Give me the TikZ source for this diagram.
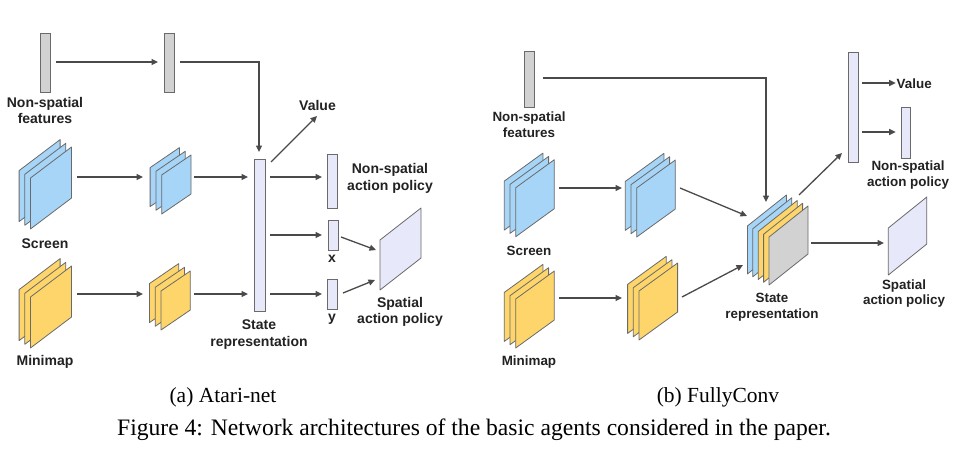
\documentclass[tikz,border=0pt]{standalone}
\usepackage{fontspec}
\setmainfont{Liberation Serif}
\newfontfamily\labfont{Liberation Sans}
\usetikzlibrary{arrows.meta}
\definecolor{blueF}{HTML}{A6D5F7}
\definecolor{yelF}{HTML}{FDD56A}
\definecolor{grayF}{HTML}{D2D2D2}
\definecolor{lavF}{HTML}{E8E8FB}
\definecolor{edgeC}{HTML}{6A6A6A}
\definecolor{arrC}{HTML}{4A4A4A}
\definecolor{txtC}{HTML}{222222}
\newcommand{\mysheet}[6]{\filldraw[sheet,fill=#6] (#1,#2) -- ++(0,-#4) -- ++(#3,-#5) -- ++(0,#4) -- cycle;}
\newcommand{\mystack}[8]{\foreach \c [count=\i from 0] in {#8} {\mysheet{#1+\i*#6}{#2+\i*#7}{#3}{#4}{#5}{\c}}}
\begin{document}
\begin{tikzpicture}[x=1pt,y=-1pt,
  sheet/.style={draw=edgeC,line width=0.8pt,line join=round},
  bar/.style={draw=edgeC,line width=0.8pt,inner sep=0pt,minimum width=10pt},
  arr/.style={draw=arrC,line width=1.3pt,-{Triangle[length=6.5pt,width=6pt]}},
  lab/.style={font={\labfont\bfseries\fontsize{14}{16.5}\selectfont},align=center,text=txtC,inner sep=0pt},
  labB/.style={font={\labfont\bfseries\fontsize{13.4}{15.5}\selectfont},align=center,text=txtC,inner sep=0pt},
  captxt/.style={font={\fontsize{21.5}{24}\selectfont},inner sep=0pt,text=black},
  figcap/.style={font={\fontsize{23.6}{26}\selectfont},inner sep=0pt,text=black}]
\fill[white] (0,0) rectangle (953,463);
\useasboundingbox (0,0) rectangle (953,463);

% ---------------- Panel (a) ----------------
\node[bar,fill=grayF,minimum height=59pt] (nsA1) at (45,62.5) {};
\node[bar,fill=grayF,minimum height=59pt] (nsA2) at (169,62.5) {};
\node[lab] (nsAl) at (45,110.4) {Non-spatial\\features};

\mystack{19.1}{221.6}{41}{51}{31}{5.7}{3.7}{blueF,blueF,blueF}
\mystack{19.1}{340.6}{41}{51}{31}{5.7}{3.7}{yelF,yelF,yelF}
\mystack{150.1}{206.6}{29.3}{39}{20}{5.8}{3.7}{blueF,blueF,blueF}
\mystack{149.4}{322.6}{29.3}{39}{20}{5.8}{3.7}{yelF,yelF,yelF}
\node[lab] (scrAl) at (45,244) {Screen};
\node[lab] (minAl) at (45,362) {Minimap};

\node[bar,fill=lavF,minimum width=11pt,minimum height=152pt] (stA) at (259.5,235) {};
\node[lab] (stAl) at (259,334.5) {State\\representation};
\node[lab] (valA) at (317.5,105) {Value};
\node[bar,fill=lavF,minimum height=54pt] (npA) at (332,181) {};
\node[lab] (npAl) at (390,178.5) {Non-spatial\\action policy};
\node[bar,fill=lavF,minimum height=30pt] (xA) at (333,235) {};
\node[lab] (xAl) at (332,259) {x};
\node[bar,fill=lavF,minimum height=30pt] (yA) at (332,294) {};
\node[lab] (yAl) at (332,319) {y};
\mysheet{380}{290}{41}{50}{32}{lavF}
\node[lab] (spAl) at (400,312) {Spatial\\action policy};

\coordinate (nsA1o) at (56,62);    \coordinate (nsA2i) at (158,62);
\coordinate (scrAo) at (77,177);   \coordinate (scrSAi) at (143,177);
\coordinate (scrSAo) at (194,177); \coordinate (stAi1) at (248,177);
\coordinate (minAo) at (77,294);   \coordinate (minSAi) at (143,294);
\coordinate (minSAo) at (194,294); \coordinate (stAi2) at (248,294);
\coordinate (nsA2o) at (180,62);   \coordinate (stAtop) at (259,152);
\coordinate (stAv) at (271,162);   \coordinate (valAi) at (317,116);
\coordinate (stAo1) at (270,177);  \coordinate (npAi) at (322,177);
\coordinate (stAo2) at (270,235);  \coordinate (xAi) at (322,235);
\coordinate (stAo3) at (270,294);  \coordinate (yAi) at (322,294);
\coordinate (xAo) at (341,237);    \coordinate (spAi1) at (376,250);
\coordinate (yAo) at (343,293);    \coordinate (spAi2) at (375,280);

\draw[arr] (nsA1o) -- (nsA2i);
\draw[arr] (nsA2o) -| (stAtop);
\draw[arr] (scrAo) -- (scrSAi);
\draw[arr] (scrSAo) -- (stAi1);
\draw[arr] (minAo) -- (minSAi);
\draw[arr] (minSAo) -- (stAi2);
\draw[arr] (stAv) -- (valAi);
\draw[arr] (stAo1) -- (npAi);
\draw[arr] (stAo2) -- (xAi);
\draw[arr] (stAo3) -- (yAi);
\draw[arr] (xAo) -- (spAi1);
\draw[arr] (yAo) -- (spAi2);

% ---------------- Panel (b) ----------------
\node[bar,fill=grayF,minimum height=56pt] (nsB) at (529,79) {};
\node[labB] (nsBl) at (529,124.5) {Non-spatial\\features};

\mystack{504.3}{230.1}{38.6}{49}{28}{5.7}{3.3}{blueF,blueF,blueF}
\mystack{504.3}{341.4}{38.6}{49}{28}{5.7}{3.3}{yelF,yelF,yelF}
\mystack{625.3}{230.4}{38.6}{49}{28}{5.7}{3.3}{blueF,blueF,blueF}
\mystack{627.6}{333.4}{38.6}{49}{28}{5.7}{3.3}{yelF,yelF,yelF}
\mystack{747.4}{274}{39}{48}{31}{5.4}{2.75}{blueF,blueF,yelF,yelF,grayF}
\node[labB] (scrBl) at (529,251) {Screen};
\node[labB] (minBl) at (529,362.5) {Minimap};
\node[labB] (stBl) at (772,307) {State\\representation};

\node[bar,fill=lavF,minimum height=110pt] (tbB) at (853,107) {};
\node[bar,fill=lavF,minimum width=9pt,minimum height=51pt] (npB) at (905.5,132.5) {};
\node[labB,anchor=west] (valB) at (896.5,83.5) {Value};
\node[labB] (npBl) at (908,175) {Non-spatial\\action policy};
\mysheet{888.3}{275}{38.5}{47}{31}{lavF}
\node[labB] (spBl) at (904,293.5) {Spatial\\action policy};

\coordinate (nsBo) at (543,78);    \coordinate (stBtop) at (766,202);
\coordinate (scrBo) at (559,188);  \coordinate (scrSBi) at (622,188);
\coordinate (minBo) at (559,298);  \coordinate (minSBi) at (622,298);
\coordinate (scrSBo) at (680,188); \coordinate (stBi1) at (747,216);
\coordinate (minSBo) at (682,297); \coordinate (stBi2) at (743,265);
\coordinate (stBo1) at (799,195);  \coordinate (tbBi) at (842,153);
\coordinate (tbBo1) at (862,83);   \coordinate (valBi) at (895.7,83);
\coordinate (tbBo2) at (862,132);  \coordinate (npBi) at (895.7,132);
\coordinate (stBo2) at (811,243);  \coordinate (spBi) at (884,243);

\draw[arr] (nsBo) -| (stBtop);
\draw[arr] (scrBo) -- (scrSBi);
\draw[arr] (minBo) -- (minSBi);
\draw[arr] (scrSBo) -- (stBi1);
\draw[arr] (minSBo) -- (stBi2);
\draw[arr] (stBo1) -- (tbBi);
\draw[arr] (tbBo1) -- (valBi);
\draw[arr] (tbBo2) -- (npBi);
\draw[arr] (stBo2) -- (spBi);

% ---------------- Captions ----------------
\node[captxt,anchor=base] (capA) at (223,402.5) {(a) Atari-net};
\node[captxt,anchor=base] (capB) at (718,402.5) {(b) FullyConv};
\node[figcap,anchor=base] (capF) at (474,435.5) {Figure 4: Network architectures of the basic agents considered in the paper.};
\end{tikzpicture}
\end{document}
